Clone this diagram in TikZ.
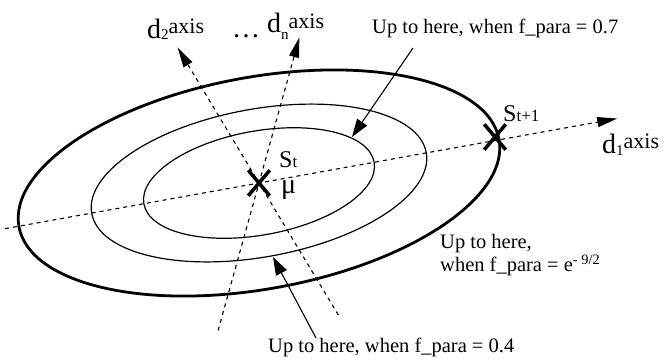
\documentclass[tikz,border=0pt]{standalone}
\usepackage{fontspec}
\setmainfont{Liberation Serif}
\usetikzlibrary{arrows.meta,calc,shapes.misc}
\newcommand{\notefont}{\fontsize{20.5}{22}\selectfont}
\newcommand{\dfont}{\fontsize{28}{30}\selectfont}
\newcommand{\axfont}{\fontsize{22}{24}\selectfont}
\newcommand{\idxfont}{\fontsize{15}{16}\selectfont}
\newcommand{\stfont}{\fontsize{24}{26}\selectfont}
\newcommand{\tfont}{\fontsize{17}{18}\selectfont}

\begin{document}
\begin{tikzpicture}[x=1pt,y=1pt,
  axisline/.style={line width=1.1pt,dash pattern=on 4pt off 4pt,
    -{Triangle[length=20pt,width=10pt]}},
  ring/.style={line width=1.2pt},
  outerring/.style={line width=2.8pt},
  pointer/.style={line width=1.1pt,-{Triangle[length=18pt,width=12pt]}},
  crossmark/.style={cross out,draw,line width=3.5pt,inner sep=0pt,
    minimum width=18pt,minimum height=22pt},
  txt/.style={anchor=base west,inner sep=0pt}]
\useasboundingbox (0,0) rectangle (668,360);

\coordinate (mu) at (259,177);

% the three contours
\draw[ring,rotate around={10.3:(mu)}] (mu) ellipse [x radius=117,y radius=52];
\draw[ring,rotate around={10.3:(mu)}] (mu) ellipse [x radius=170,y radius=74];
\draw[outerring,rotate around={10.3:(mu)}] (mu) ellipse [x radius=244,y radius=106];

% axes
\coordinate (donetail) at ($(mu)+(190.2:258)$);
\coordinate (donetip) at ($(mu)+(10.2:364)$);
\coordinate (dtwotail) at ($(mu)+(-59:154)$);
\coordinate (dtwotip) at ($(mu)+(121:158)$);
\coordinate (dntail) at ($(mu)+(254.5:153)$);
\coordinate (dntip) at ($(mu)+(74.5:151)$);
\draw[axisline] (donetail) -- (donetip);
\draw[axisline] (dtwotail) -- (dtwotip);
\draw[axisline] (dntail) -- (dntip);

\node[txt] (donelab) at (602,207)
  {\dfont d\raisebox{-2pt}{\idxfont 1}\raisebox{5pt}{\axfont axis}};
\node[txt] (dtwolab) at (147,322)
  {\dfont d\raisebox{-1pt}{\idxfont 2}\raisebox{5pt}{\axfont axis}};
\node[txt] (dots) at (232,323) {\dfont …};
\node[txt] (dnlab) at (267,328)
  {\dfont d\raisebox{-7pt}{\idxfont n}\raisebox{4pt}{\axfont axis}};

% sample points
\node[crossmark] (st) at (mu) {};
\node[crossmark] (stnext) at (495,223) {};
\node[txt] (stlab) at (279,193) {\stfont S\tfont t};
\node[txt] (mulab) at (281,167) {\fontsize{28}{30}\selectfont μ};
\node[txt] (stnextlab) at (503,239) {\stfont S\tfont t+1};

% notes
\node[txt] (noteseven) at (372,327) {\notefont Up to here, when f\_para = 0.7};
\node[txt] (notefour) at (268,8) {\notefont Up to here, when f\_para = 0.4};
\node[txt] (noteout) at (440,112) {\notefont\begin{tabular}[t]{@{}l@{}}
  Up to here,\\ when f\_para = e\textsuperscript{- 9/2}\end{tabular}};

\coordinate (seventail) at (413,312);
\coordinate (seventip) at (352,223);
\coordinate (fourtail) at (316,22);
\coordinate (fourtip) at (273,103);
\draw[pointer] (seventail) -- (seventip);
\draw[pointer] (fourtail) -- (fourtip);

\end{tikzpicture}
\end{document}
